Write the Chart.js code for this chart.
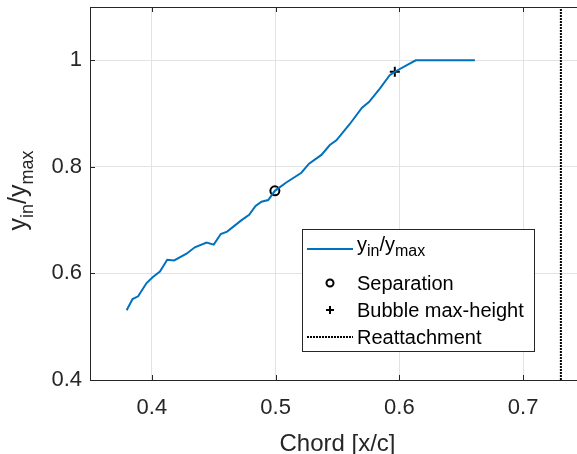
<!DOCTYPE html>
<html>
<head>
<meta charset="utf-8">
<script src="https://cdn.jsdelivr.net/npm/chart.js@4/dist/chart.umd.min.js"></script>
<style>
html,body{margin:0;padding:0;overflow:hidden;background:#fff;}
#wrap{width:600px;height:454px;}
</style>
</head>
<body>
<div id="wrap"><canvas id="c" width="600" height="454"></canvas></div>
<script>
// ---- data ----
const chordX = [0.3796,0.3844,0.3889,0.3957,0.4006,0.4065,0.4124,0.4180,0.4280,0.4347,0.4442,0.4500,0.4557,0.4608,0.4725,0.4786,0.4838,0.4886,0.4940,0.4994,0.5086,0.5208,0.5270,0.5370,0.5438,0.5491,0.5598,0.5698,0.5754,0.5842,0.5922,0.5963,0.6132,0.6610];
const yRatio = [0.5308,0.5520,0.5570,0.5820,0.5930,0.6037,0.6256,0.6243,0.6370,0.6490,0.6580,0.6540,0.6740,0.6785,0.7000,0.7100,0.7265,0.7346,0.7378,0.7550,0.7707,0.7890,0.8060,0.8224,0.8410,0.8499,0.8800,0.9110,0.9215,0.9470,0.9720,0.9785,1.0000,1.0000];
const separationX = [0.4994];
const separationY = [0.7550];
const bubbleX = [0.5963];
const bubbleY = [0.9785];
const reattachX = [0.7305];
const xLimits = [0.35, 0.75];
const yLimits = [0.4, 1.1];
const xTicks = [0.4, 0.5, 0.6, 0.7];
const xTickLabels = ['0.4', '0.5', '0.6', '0.7'];
const yTicks = [0.4, 0.6, 0.8, 1.0];
const yTickLabels = ['0.4', '0.6', '0.8', '1'];
const xTitle = 'Chord [x/c]';
const yTitleParts = [['y', 0], ['in', 1], ['/y', 0], ['max', 1]];
const legendEntries = ['y_in/y_max', 'Separation', 'Bubble max-height', 'Reattachment'];

const FONT = '"Liberation Sans", Arial, Helvetica, sans-serif';
const TXT = '#262626';
const BLUE = '#0072BD';

function drawRich(ctx, parts, x, y, mainSize, subSize, subShift) {
  let cx = x;
  for (const [t, sub] of parts) {
    ctx.font = (sub ? subSize : mainSize) + 'px ' + FONT;
    ctx.fillText(t, cx, y + (sub ? subShift : 0));
    cx += ctx.measureText(t).width;
  }
  return cx - x;
}
function richWidth(ctx, parts, mainSize, subSize) {
  let w = 0;
  for (const [t, sub] of parts) {
    ctx.font = (sub ? subSize : mainSize) + 'px ' + FONT;
    w += ctx.measureText(t).width;
  }
  return w;
}

const matlabAxes = {
  id: 'matlabAxes',
  afterDatasetsDraw(chart) {
    const ctx = chart.ctx;
    const a = chart.chartArea;
    const xs = chart.scales.x, ys = chart.scales.y;
    ctx.save();
    ctx.strokeStyle = TXT;
    ctx.lineWidth = 1;
    ctx.beginPath();
    for (const v of xTicks) {
      const px = Math.round(xs.getPixelForValue(v)) + 0.5;
      ctx.moveTo(px, a.bottom); ctx.lineTo(px, a.bottom - 5);
      ctx.moveTo(px, a.top); ctx.lineTo(px, a.top + 5);
    }
    for (const v of yTicks) {
      const py = Math.round(ys.getPixelForValue(v)) + 0.5;
      ctx.moveTo(a.left, py); ctx.lineTo(a.left + 5, py);
      ctx.moveTo(a.right, py); ctx.lineTo(a.right - 5, py);
    }
    ctx.stroke();
    ctx.strokeRect(Math.round(a.left) + 0.5, Math.round(a.top) + 0.5, Math.round(a.right - a.left), Math.round(a.bottom - a.top));
    ctx.restore();
  },
  afterDraw(chart) {
    const ctx = chart.ctx;
    const a = chart.chartArea;
    ctx.save();
    ctx.fillStyle = TXT;
    // x title
    ctx.font = '24px ' + FONT;
    ctx.textAlign = 'center';
    ctx.textBaseline = 'alphabetic';
    ctx.fillText(xTitle, (a.left + a.right) / 2, 451);
    // y title (rotated, with subscripts)
    ctx.textAlign = 'left';
    const wy = richWidth(ctx, yTitleParts, 25, 18);
    ctx.save();
    ctx.translate(26, (a.top + a.bottom) / 2 - 3);
    ctx.rotate(-Math.PI / 2);
    drawRich(ctx, yTitleParts, -wy / 2, 0, 25, 18, 7);
    ctx.restore();

    // legend
    const L = 302.5, T = 229.5, W = 232, H = 122;
    ctx.fillStyle = '#ffffff';
    ctx.fillRect(L, T, W, H);
    ctx.strokeStyle = TXT;
    ctx.lineWidth = 1;
    ctx.strokeRect(L, T, W, H);
    const sx0 = 307, sx1 = 353, mx = 330, tx = 357;
    ctx.strokeStyle = BLUE; ctx.lineWidth = 2;
    ctx.beginPath(); ctx.moveTo(sx0, 249); ctx.lineTo(sx1, 249); ctx.stroke();
    ctx.fillStyle = '#000';
    const p1 = legendEntries[0].split('/');
    const parts1 = [[p1[0].split('_')[0], 0], [p1[0].split('_')[1], 1], ['/' + p1[1].split('_')[0], 0], [p1[1].split('_')[1], 1]];
    drawRich(ctx, parts1, tx, 251, 20, 16, 5);
    ctx.strokeStyle = '#000'; ctx.lineWidth = 2;
    ctx.beginPath(); ctx.arc(mx, 283, 3.5, 0, Math.PI * 2); ctx.stroke();
    ctx.font = '20px ' + FONT;
    ctx.fillText(legendEntries[1], tx, 290);
    ctx.beginPath(); ctx.moveTo(mx - 4, 310); ctx.lineTo(mx + 4, 310); ctx.moveTo(mx, 306); ctx.lineTo(mx, 314); ctx.stroke();
    ctx.fillText(legendEntries[2], tx, 317);
    ctx.setLineDash([2, 1]);
    ctx.beginPath(); ctx.moveTo(sx0, 337); ctx.lineTo(sx1, 337); ctx.stroke();
    ctx.setLineDash([]);
    ctx.fillText(legendEntries[3], tx, 344);
    ctx.restore();
  }
};

const lineData = chordX.map((x, i) => ({ x, y: yRatio[i] }));
const sepData = separationX.map((x, i) => ({ x, y: separationY[i] }));
const bubData = bubbleX.map((x, i) => ({ x, y: bubbleY[i] }));
const reData = [{ x: reattachX[0], y: yLimits[0] }, { x: reattachX[0], y: yLimits[1] }];

new Chart(document.getElementById('c'), {
  type: 'scatter',
  data: {
    datasets: [
      { label: legendEntries[0], data: lineData, showLine: true, borderColor: BLUE, borderWidth: 2, pointRadius: 0, tension: 0, fill: false },
      { label: legendEntries[1], data: sepData, pointStyle: 'circle', pointRadius: 4.5, borderColor: '#000', borderWidth: 2, backgroundColor: 'rgba(0,0,0,0)' },
      { label: legendEntries[2], data: bubData, pointStyle: 'cross', pointRadius: 5, borderColor: '#000', borderWidth: 2, backgroundColor: '#000' },
      { label: legendEntries[3], data: reData, showLine: true, borderColor: '#000', borderWidth: 2, borderDash: [2, 1], pointRadius: 0, fill: false, clip: false }
    ]
  },
  options: {
    responsive: false,
    animation: false,
    devicePixelRatio: 1,
    layout: { padding: { left: 0, top: 6, right: 15, bottom: 0 } },
    plugins: { legend: { display: false }, tooltip: { enabled: false } },
    scales: {
      x: {
        type: 'linear', min: xLimits[0], max: xLimits[1],
        afterBuildTicks: s => { s.ticks = xTicks.map(v => ({ value: v })); },
        afterFit: s => { s.height = 74; s.paddingLeft = 0; s.paddingRight = 0; },
        ticks: {
          callback: (v) => xTickLabels[xTicks.findIndex(t => Math.abs(t - v) < 1e-9)],
          font: { family: FONT, size: 22 }, color: TXT, padding: 15, maxRotation: 0, autoSkip: false
        },
        grid: { color: '#e3e3e3', lineWidth: 1, drawTicks: false },
        border: { display: false }
      },
      y: {
        type: 'linear', min: yLimits[0], max: yLimits[1],
        afterBuildTicks: s => { s.ticks = yTicks.map(v => ({ value: v })); },
        afterFit: s => { s.width = 90; s.paddingTop = 0; s.paddingBottom = 0; },
        ticks: {
          callback: (v) => yTickLabels[yTicks.findIndex(t => Math.abs(t - v) < 1e-9)],
          font: { family: FONT, size: 22 }, color: TXT, padding: 8, autoSkip: false
        },
        grid: { color: '#e3e3e3', lineWidth: 1, drawTicks: false },
        border: { display: false }
      }
    }
  },
  plugins: [matlabAxes]
});
</script>
</body>
</html>
